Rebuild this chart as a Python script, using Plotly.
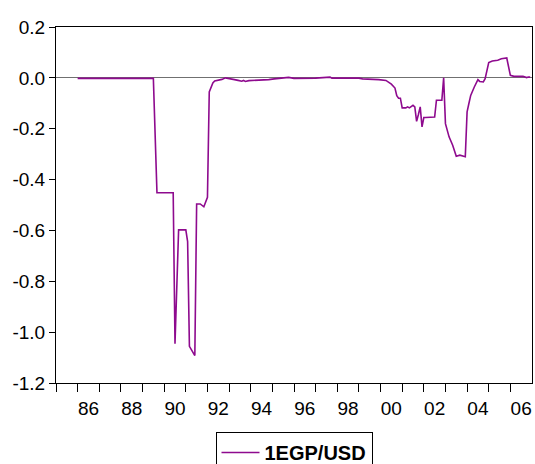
import plotly.graph_objects as go

months = [
    "1986-01", "1987-01", "1988-01", "1989-01", "1989-07", "1989-09",
    "1990-06", "1990-07", "1990-09", "1991-01", "1991-02", "1991-03",
    "1991-06", "1991-07", "1991-09", "1991-11", "1991-12", "1992-01",
    "1992-02", "1992-03", "1992-04", "1992-05", "1992-07", "1992-09",
    "1992-11", "1993-01", "1993-04", "1993-06", "1993-08", "1993-09",
    "1993-10", "1993-12", "1994-06", "1994-11", "1995-02", "1995-07",
    "1995-10", "1996-01", "1997-01", "1997-09", "1997-10", "1999-01",
    "1999-03", "1999-12", "2000-04", "2000-07", "2000-09", "2000-10",
    "2000-11", "2000-12", "2001-01", "2001-03", "2001-04", "2001-05",
    "2001-07", "2001-08", "2001-09", "2001-10", "2001-11", "2001-12",
    "2002-01", "2002-02", "2002-07", "2002-08", "2002-11", "2002-12",
    "2003-01", "2003-03", "2003-05", "2003-07", "2003-09", "2003-12",
    "2004-01", "2004-02", "2004-03", "2004-05", "2004-07", "2004-08",
    "2004-10", "2004-11", "2005-01", "2005-03", "2005-06", "2005-08",
    "2005-10", "2005-11", "2006-01", "2006-03", "2006-08", "2006-10",
    "2006-11", "2006-12",
]
values = [
    -0.002, -0.002, -0.002, -0.002, -0.002, -0.452,
    -0.452, -1.046, -0.598, -0.598, -0.644, -1.056,
    -1.092, -0.496, -0.496, -0.507, -0.490, -0.470,
    -0.055, -0.040, -0.020, -0.012, -0.010, -0.006,
    0.000, -0.004, -0.007, -0.010, -0.013, -0.010,
    -0.014, -0.011, -0.010, -0.007, -0.004, -0.002,
    0.002, -0.002, -0.001, 0.003, -0.001, -0.001,
    -0.004, -0.007, -0.010, -0.025, -0.040, -0.070,
    -0.080, -0.080, -0.118, -0.118, -0.114, -0.118,
    -0.108, -0.114, -0.171, -0.144, -0.114, -0.193,
    -0.156, -0.156, -0.154, -0.088, -0.088, 0.000,
    -0.180, -0.232, -0.265, -0.308, -0.304, -0.310,
    -0.134, -0.101, -0.069, -0.036, -0.007, -0.014,
    -0.016, -0.003, 0.060, 0.066, 0.069, 0.075,
    0.079, 0.078, 0.010, 0.006, 0.006, 0.001,
    0.003, 0.003,
]
series_name = "1EGP/USD"

tick_years = list(range(1985, 2007))
label_years = list(range(1986, 2007, 2))
label_text = [f"{y % 100:02d}" for y in label_years]
y_ticks = [-1.2, -1.0, -0.8, -0.6, -0.4, -0.2, 0.0, 0.2]

x = [int(m[:4]) + (int(m[5:]) - 1) / 12 for m in months]

LINE = "#8E0A8E"
FONT = "Liberation Sans, Arial, Helvetica, sans-serif"

W, H = 535, 464

fig = go.Figure()
fig.add_trace(go.Scatter(x=x, y=values, mode="lines", name=series_name,
                         line=dict(color=LINE, width=1.6)))
# helper trace so the label axis is drawn
fig.add_trace(go.Scatter(x=[x[0]], y=[values[0]], xaxis="x2", mode="lines",
                         showlegend=False, hoverinfo="skip",
                         line=dict(color="rgba(0,0,0,0)")))

fig.update_layout(
    width=W, height=H,
    margin=dict(l=56, r=3, t=27, b=81, autoexpand=False),
    paper_bgcolor="white", plot_bgcolor="white",
    font=dict(family=FONT, size=19, color="black"),
    showlegend=True,
    legend=dict(x=0.5, xanchor="center", xref="paper",
                y=(H - 432) / H, yanchor="top", yref="container",
                orientation="h", bordercolor="black", borderwidth=1,
                itemwidth=38,
                font=dict(size=20, family=FONT, weight="bold"),
                bgcolor="white"),
    xaxis=dict(range=[1985, 2007], tickmode="array", tickvals=tick_years,
               showticklabels=False, ticks="outside", ticklen=8,
               tickcolor="black", tickwidth=1, showgrid=False,
               zeroline=False, showline=True, linecolor="black",
               linewidth=1, mirror=True, automargin=False),
    xaxis2=dict(range=[1985, 2007], overlaying="x", side="bottom",
                tickmode="array", tickvals=[y + 0.5 for y in label_years],
                ticktext=label_text, ticks="outside", ticklen=8,
                tickcolor="rgba(0,0,0,0)", showgrid=False, zeroline=False,
                showline=False, automargin=False,
                tickfont=dict(size=19, family=FONT)),
    yaxis=dict(range=[-1.2, 0.2], tickmode="array", tickvals=y_ticks,
               ticktext=[f"{v:.1f}" for v in y_ticks], ticks="outside",
               ticklen=6, tickcolor="black", showgrid=False,
               zeroline=True, zerolinecolor="#707070", zerolinewidth=1.2,
               showline=True, linecolor="black", linewidth=1, mirror=True,
               automargin=False, tickfont=dict(size=19, family=FONT)),
)

fig.write_html(
    "out.html",
    config={"displayModeBar": False},
    post_script="document.body.style.margin='0';"
                "document.body.style.padding='0';"
                "document.body.style.overflow='hidden';",
)
